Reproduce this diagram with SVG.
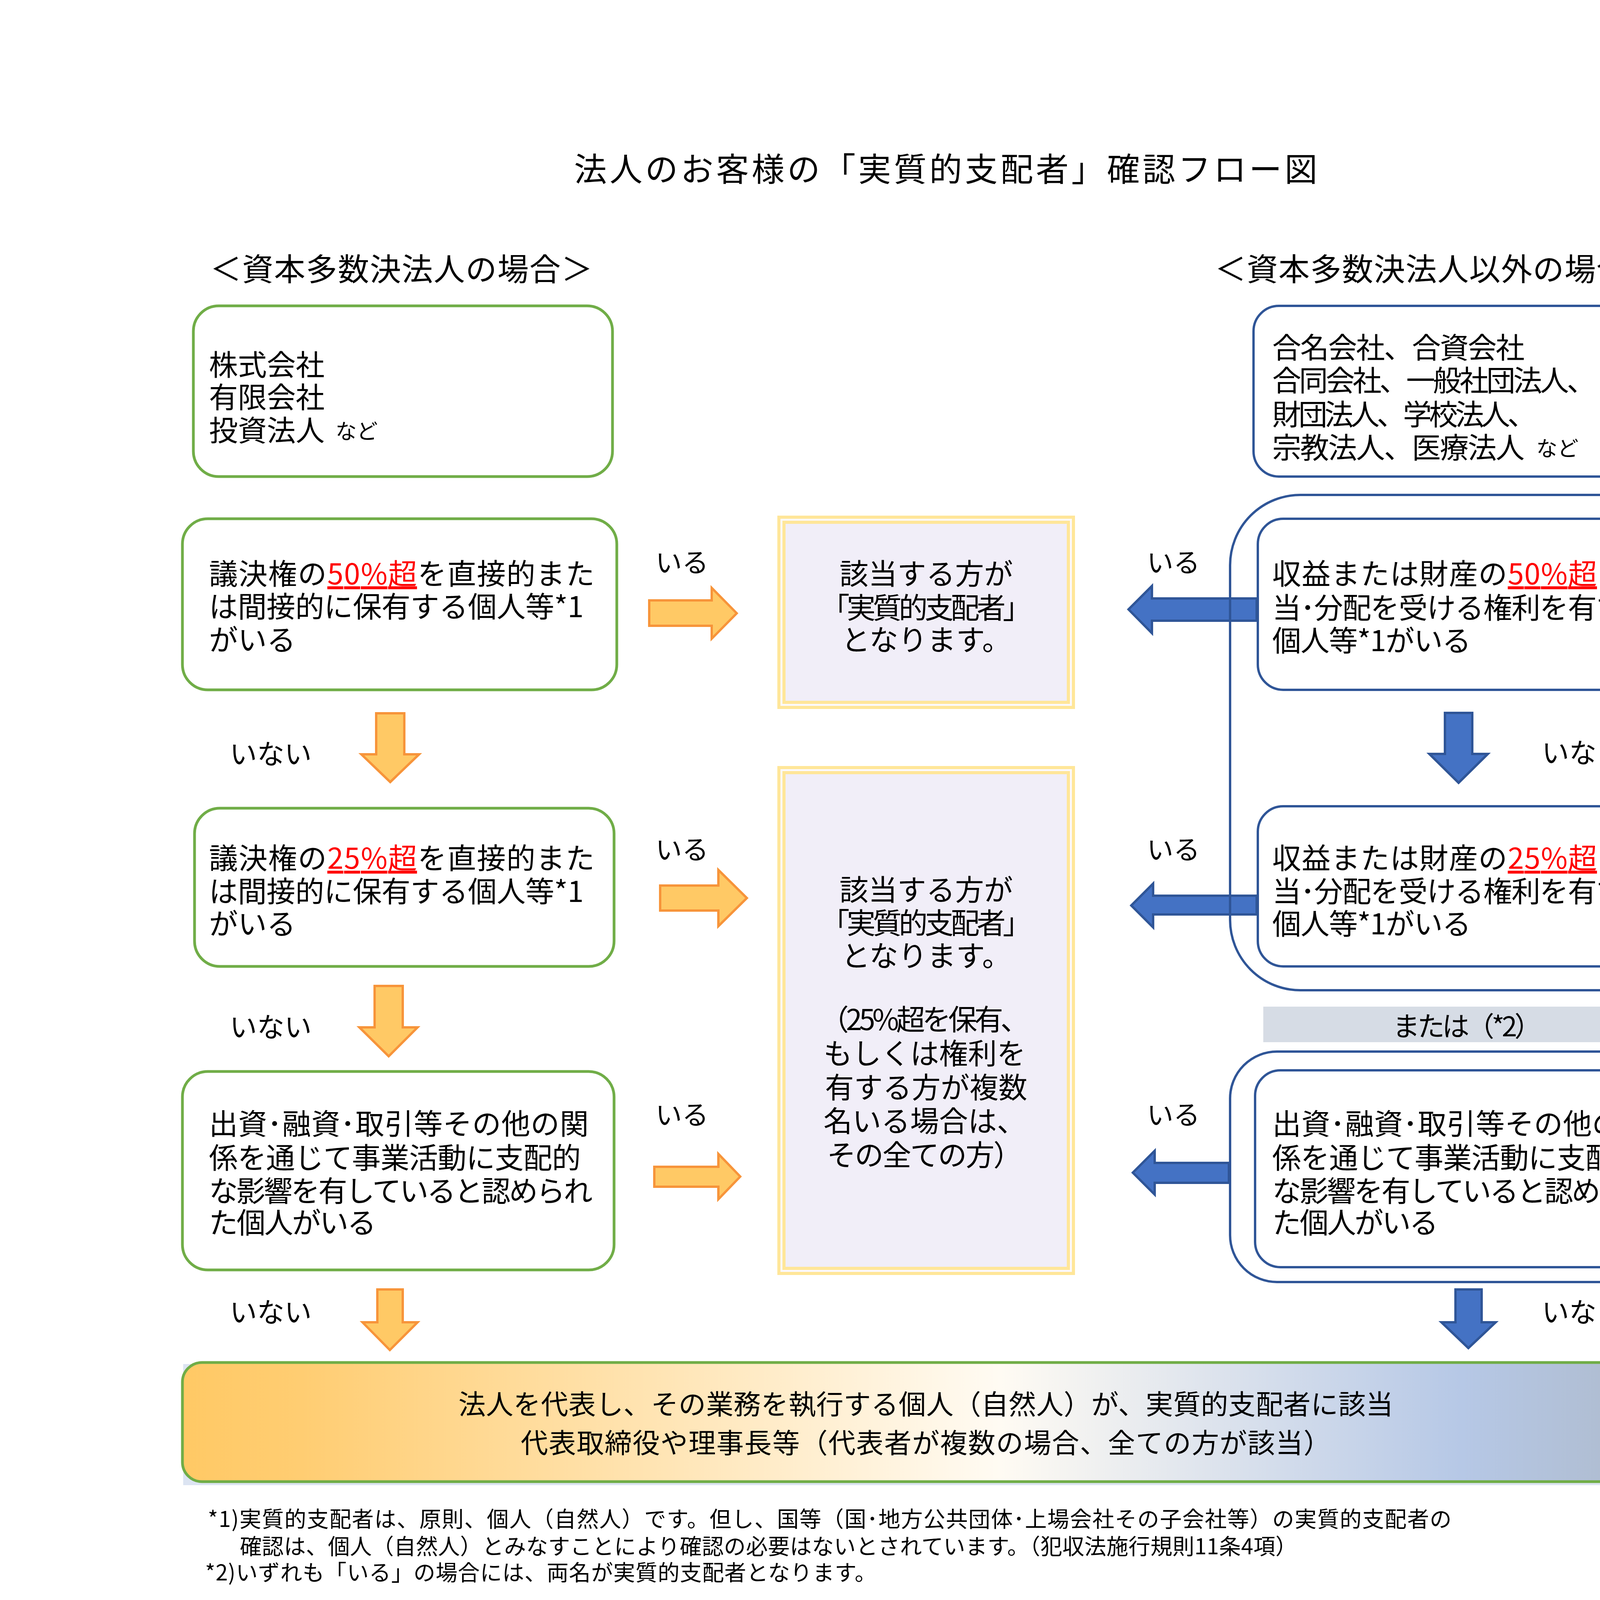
<svg xmlns="http://www.w3.org/2000/svg" width="4960" height="7015" viewBox="0 0 4960 7015">
<defs>
<style>
text{font-family:"Noto Sans CJK JP","Noto Sans",sans-serif;fill:#000;dominant-baseline:central}
.f74{font-size:74px}
.f68{font-size:68px}
.sm{font-size:54px}
.g{fill:#fff;stroke:#70AD47;stroke-width:7}
.b{fill:#fff;stroke:#2F5597;stroke-width:6}
.bo{fill:none;stroke:#2F5597;stroke-width:6}
.red{fill:#FF0000;text-decoration:underline}
.pf1{fill:#FBF9FD;stroke:#FFE699;stroke-width:8}
.pf2{fill:#F1EEF8;stroke:#FFE699;stroke-width:8}
.oa{fill:#FFC965;stroke:#F7943A;stroke-width:6}
.ba{fill:#4472C4;stroke:#2F5597;stroke-width:6}
.wa{fill:#fff;stroke:#000;stroke-width:4}
.pa{fill:#5B9BD5;stroke:#000;stroke-width:7}
.tl{stroke:#000;fill:none}
.d{font-size:66px}
.db{font-size:66px;font-weight:bold}
.co{font-size:70px}
</style>
<linearGradient id="bannerGrad" x1="0" y1="0" x2="1" y2="0">
<stop offset="0" stop-color="#FFC965"/>
<stop offset="0.08" stop-color="#FFCD72"/>
<stop offset="0.55" stop-color="#FFFBF3"/>
<stop offset="0.86" stop-color="#B6C8E6"/>
<stop offset="1" stop-color="#ADB9CA"/>
</linearGradient>
</defs>
<rect width="4960" height="7015" fill="#fff"/>

<g id="title">
<text x="2421" y="427" text-anchor="middle" font-size="84" textLength="1903">法人のお客様の「実質的支配者」確認フロー図</text>
</g>
<g id="header-left">
<text x="538" y="683" font-size="80" textLength="979">＜資本多数決法人の場合＞</text>
</g>
<g id="header-right">
<text x="3110" y="683" font-size="80" textLength="1138">＜資本多数決法人以外の場合＞</text>
</g>

<g id="connectors">
<path class="oa" d="M1662,1537 H1822 V1505 L1886,1570 L1822,1635 V1602 H1662 Z"/>
<path class="oa" d="M1690,2267 H1839 V2227 L1912,2299 L1839,2371 V2331 H1690 Z"/>
<path class="oa" d="M1675,2987 H1839 V2954 L1895,3012 L1839,3070 V3038 H1675 Z"/>
<path class="oa" d="M963,1826 H1035 V1931 H1073 L999,2002 L925,1931 H963 Z"/>
<path class="oa" d="M959,2524 H1031 V2630 H1069 L995,2704 L920,2630 H959 Z"/>
<path class="oa" d="M966,3301 H1031 V3385 H1069 L998,3456 L928,3385 H966 Z"/>
<path class="ba" d="M3217,1532 H2949 V1500 L2889,1560 L2949,1621 V1589 H3217 Z"/>
<path class="ba" d="M3217,2293 H2952 V2262 L2896,2318 L2952,2374 V2341 H3217 Z"/>
<path class="ba" d="M3146,2977 H2956 V2946 L2900,3002 L2956,3058 V3028 H3146 Z"/>
<path class="ba" d="M3699,1825 H3769 V1930 H3809 L3734,2004 L3659,1930 H3699 Z"/>
<path class="ba" d="M3726,3301 H3793 V3385 H3829 L3759,3451 L3690,3385 H3726 Z"/>
<text x="1678" y="1435" class="f68">いる</text>
<text x="1678" y="2170" class="f68">いる</text>
<text x="1678" y="2849" class="f68">いる</text>
<text x="2936" y="1435" class="f68">いる</text>
<text x="2936" y="2170" class="f68">いる</text>
<text x="2936" y="2849" class="f68">いる</text>
<text x="588" y="1925" font-size="70">いない</text>
<text x="588" y="2624" font-size="70">いない</text>
<text x="588" y="3354" font-size="70">いない</text>
<text x="3947" y="1922" font-size="70">いない</text>
<text x="3947" y="3354" font-size="70">いない</text>
</g>

<g id="node-left-1">
<rect class="g" x="495" y="783" width="1073" height="437" rx="65"/>
<text x="535" y="928" class="f74">株式会社</text>
<text x="535" y="1011" class="f74">有限会社</text>
<text x="535" y="1096" class="f74">投資法人</text>
<text x="859" y="1100" class="sm">など</text>
</g>
<g id="node-left-2">
<rect class="g" x="467" y="1328" width="1112" height="438" rx="65"/>
<text x="535" y="1463" class="f74" textLength="987">議決権の<tspan class="red">50%超</tspan>を直接的また</text>
<text x="535" y="1547" class="f74" textLength="959">は間接的に保有する個人等*1</text>
<text x="535" y="1632" class="f74">がいる</text>
</g>
<g id="node-left-3">
<rect class="g" x="498" y="2069" width="1074" height="405" rx="65"/>
<text x="535" y="2191" class="f74" textLength="987">議決権の<tspan class="red">25%超</tspan>を直接的また</text>
<text x="535" y="2276" class="f74" textLength="959">は間接的に保有する個人等*1</text>
<text x="535" y="2359" class="f74">がいる</text>
</g>
<g id="node-left-4">
<rect class="g" x="467" y="2743" width="1105" height="508" rx="65"/>
<text x="535" y="2871" class="f74" textLength="972">出資･融資･取引等その他の関</text>
<text x="535" y="2958" class="f74" textLength="952">係を通じて事業活動に支配的</text>
<text x="535" y="3043" class="f74" textLength="982">な影響を有していると認められ</text>
<text x="535" y="3124" class="f74" textLength="428">た個人がいる</text>
</g>

<g id="node-result-1">
<rect class="pf1" x="1994" y="1324" width="754" height="487"/>
<rect class="pf2" x="2007" y="1337" width="728" height="461"/>
<text x="2371" y="1463" class="f74" text-anchor="middle">該当する方が</text>
<text x="2371" y="1550" class="f74" text-anchor="middle" textLength="540">「実質的支配者」</text>
<text x="2371" y="1632" class="f74" text-anchor="middle">となります。</text>
</g>
<g id="node-result-2">
<rect class="pf1" x="1994" y="1965" width="754" height="1295"/>
<rect class="pf2" x="2007" y="1978" width="728" height="1269"/>
<text x="2371" y="2272" class="f74" text-anchor="middle">該当する方が</text>
<text x="2371" y="2357" class="f74" text-anchor="middle" textLength="540">「実質的支配者」</text>
<text x="2371" y="2441" class="f74" text-anchor="middle">となります。</text>
<text x="2367" y="2604" class="f74" text-anchor="middle" textLength="536">（25%超を保有、</text>
<text x="2367" y="2691" class="f74" text-anchor="middle">もしくは権利を</text>
<text x="2371" y="2778" class="f74" text-anchor="middle">有する方が複数</text>
<text x="2367" y="2864" class="f74" text-anchor="middle">名いる場合は、</text>
<text x="2367" y="2951" class="f74" text-anchor="middle" textLength="500">その全ての方）</text>
</g>

<g id="node-right-1">
<rect class="b" x="3209" y="783" width="1083" height="437" rx="65"/>
<text x="3257" y="884" class="f74" textLength="646">合名会社、合資会社</text>
<text x="3257" y="968" class="f74" textLength="828">合同会社、一般社団法人、</text>
<text x="3257" y="1055" class="f74" textLength="676">財団法人、学校法人、</text>
<text x="3257" y="1140" class="f74" textLength="646">宗教法人、医療法人</text>
<text x="3933" y="1144" class="sm">など</text>
</g>
<g id="group-right-a">
<rect class="bo" x="3149" y="1267" width="1227" height="1268" rx="180"/>
</g>
<g id="node-right-2">
<rect class="b" x="3220" y="1328" width="1065" height="438" rx="65"/>
<text x="3257" y="1463" class="f74" textLength="982">収益または財産の<tspan class="red">50%超</tspan>の配</text>
<text x="3257" y="1550" class="f74" textLength="975">当･分配を受ける権利を有する</text>
<text x="3257" y="1634" class="f74" textLength="509">個人等*1がいる</text>
</g>
<g id="node-right-3">
<rect class="b" x="3220" y="2064" width="1065" height="410" rx="65"/>
<text x="3257" y="2191" class="f74" textLength="982">収益または財産の<tspan class="red">25%超</tspan>の配</text>
<text x="3257" y="2276" class="f74" textLength="975">当･分配を受ける権利を有する</text>
<text x="3257" y="2359" class="f74" textLength="509">個人等*1がいる</text>
</g>
<g id="label-or">
<rect x="3234" y="2577" width="1044" height="91" fill="#D6DCE5"/>
<text x="3756" y="2622" font-size="70" text-anchor="middle" textLength="382">または（*2）</text>
</g>
<g id="group-right-b">
<rect class="bo" x="3149" y="2692" width="1217" height="590" rx="120"/>
</g>
<g id="node-right-4">
<rect class="b" x="3213" y="2740" width="1079" height="504" rx="65"/>
<text x="3257" y="2871" class="f74" textLength="967">出資･融資･取引等その他の関</text>
<text x="3257" y="2958" class="f74" textLength="948">係を通じて事業活動に支配的</text>
<text x="3257" y="3043" class="f74" textLength="980">な影響を有していると認められ</text>
<text x="3257" y="3124" class="f74" textLength="425">た個人がいる</text>
</g>

<g id="node-conclusion">
<rect x="469" y="3492" width="3808" height="310" fill="#DCE4F2"/>
<rect x="467" y="3488" width="3806" height="305" rx="50" fill="url(#bannerGrad)" stroke="#70AD47" stroke-width="7"/>
<text x="2370" y="3590" font-size="70" text-anchor="middle" textLength="2393">法人を代表し、その業務を執行する個人（自然人）が、実質的支配者に該当</text>
<text x="2370" y="3689" font-size="70" text-anchor="middle" textLength="2074">代表取締役や理事長等（代表者が複数の場合、全ての方が該当）</text>
</g>

<g id="notes">
<text x="532" y="3884" font-size="56" textLength="3184">*1)実質的支配者は、原則、個人（自然人）です。但し、国等（国･地方公共団体･上場会社その子会社等）の実質的支配者の</text>
<text x="614" y="3954" font-size="56" textLength="2707">確認は、個人（自然人）とみなすことにより確認の必要はないとされています。（犯収法施行規則11条4項）</text>
<text x="525" y="4021" font-size="56" textLength="1719">*2)いずれも「いる」の場合には、両名が実質的支配者となります。</text>
</g>

<g id="section-header">
<rect x="512" y="4115" width="3769" height="213" fill="none" stroke="#70AD47" stroke-width="5"/>
<rect x="525" y="4127" width="3745" height="187" fill="none" stroke="#70AD47" stroke-width="6"/>
<text x="2405" y="4222" font-size="86" text-anchor="middle" textLength="1050">議決権の間接保有について</text>
</g>

<g id="table">
<line class="tl" x1="532" y1="4345" x2="4237" y2="4345" stroke-width="6"/>
<line class="tl" x1="532" y1="4611" x2="4237" y2="4611" stroke-width="6"/>
<line class="tl" x1="532" y1="5276" x2="4237" y2="5276" stroke-width="5"/>
<line class="tl" x1="533" y1="6817" x2="4236" y2="6817" stroke-width="4"/>
<line class="tl" x1="535" y1="4345" x2="535" y2="6817" stroke-width="3"/>
<line class="tl" x1="4234" y1="4345" x2="4234" y2="6817" stroke-width="3"/>
<line class="tl" x1="1341" y1="4345" x2="1341" y2="6817" stroke-width="3"/>
<line class="tl" x1="2256" y1="5276" x2="2256" y2="6817" stroke-width="3"/>
<line class="tl" x1="3282" y1="5276" x2="3282" y2="6817" stroke-width="3"/>
<text x="938" y="4479" font-size="94" font-weight="bold" style="fill:#ED7D31" text-anchor="middle" textLength="579">直接保有の例</text>
<text x="2791" y="4479" font-size="94" font-weight="bold" style="fill:#ED7D31" text-anchor="middle" textLength="574">間接保有の例</text>
<text x="590" y="4676" font-size="62" textLength="664">・個人AはB社の実質</text>
<text x="583" y="4810" font-size="62" textLength="492">的支配者となる</text>
<text x="572" y="4944" font-size="62" textLength="689">（B社の議決権５１％</text>
<text x="583" y="5072" font-size="62" textLength="425">を直接保有）</text>
<text x="1394" y="4676" font-size="62" textLength="2755">・①、②のケースのように、個人Aが間にあるC社（上場会社等ではない）の議決権の</text>
<rect x="1384" y="4754" width="275" height="118" fill="#FFFF00"/>
<line class="tl" x1="1384" y1="4857" x2="1659" y2="4857" stroke-width="6"/>
<text x="1386" y="4810" font-size="62" font-weight="bold" textLength="271">５０%超</text>
<text x="1663" y="4810" font-size="62" textLength="2282">を保有している場合のみ、間接保有分として議決権の算定に含めます。</text>
<text x="1394" y="4944" font-size="62" textLength="2414">・③のように、間にあるC社（上場会社等ではない）の議決権の保有割合が</text>
<rect x="3812" y="4887" width="350" height="115" fill="#D9D9D9"/>
<text x="3814" y="4944" font-size="62" textLength="346">５０%以下</text>
<text x="1384" y="5072" font-size="62" textLength="2740">のときは、AはB社の議決権を有していないとされ、実質的支配者には該当しません。</text>
</g>

<g id="example-direct">
<rect x="788" y="5517" width="301" height="135" fill="#fff" stroke="#000" stroke-width="4"/>
<text x="792" y="5584" font-size="68">個人<tspan x="1025">A</tspan></text>
<path class="wa" d="M930,5784 H976 V6410 H1001 L953,6453 L906,6410 H930 Z"/>
<text x="1013" y="5917" class="db">直接</text>
<text x="989" y="6047" class="db">５１％</text>
<line class="tl" x1="976" y1="6090" x2="1192" y2="6090" stroke-width="3"/>
<text x="874" y="6573" class="co">Ｂ社</text>
</g>

<g id="example-1">
<text x="1380" y="5342" font-size="64">①</text>
<rect x="1456" y="5477" width="300" height="134" fill="#fff" stroke="#000" stroke-width="4"/>
<text x="1460" y="5544" font-size="68">個人<tspan x="1692">A</tspan></text>
<path class="wa" d="M1528,5709 H1567 V5993 H1589 L1548,6031 L1507,5993 H1528 Z"/>
<rect x="1601" y="5816" width="215" height="117" fill="#FFFF00"/>
<text x="1617" y="5874" class="d">５５％</text>
<path class="pa" d="M1861,5541 H1946 V5998 H1958 L1931,6031 L1904,5998 H1916 V5568 H1861 Z"/>
<text x="1468" y="6134" class="co">Ｃ社</text>
<text x="1850" y="6139" class="db" textLength="345">３０％保有</text>
<line class="tl" x1="1836" y1="6182" x2="2195" y2="6182" stroke-width="4"/>
<path class="wa" d="M1528,6250 H1567 V6504 H1589 L1548,6542 L1507,6504 H1528 Z"/>
<text x="1601" y="6401" class="db">間接</text>
<text x="1613" y="6535" class="db">３０％</text>
<path class="pa" d="M1922,6234 H1959 V6679 H1886 V6695 L1843,6664 L1886,6635 V6649 H1922 Z"/>
<text x="1474" y="6665" class="co">Ｂ社</text>
</g>

<g id="example-2">
<text x="2298" y="5342" font-size="64">②</text>
<rect x="2372" y="5477" width="301" height="134" fill="#fff" stroke="#000" stroke-width="4"/>
<text x="2376" y="5544" font-size="68">個人<tspan x="2605">A</tspan></text>
<text x="2375" y="5743" class="db">直接</text>
<text x="2384" y="5873" class="db">２０％</text>
<path class="wa" d="M2634,5680 H2673 V5962 H2696 L2654,6000 L2612,5962 H2634 Z"/>
<rect x="2696" y="5816" width="216" height="117" fill="#FFFF00"/>
<text x="2710" y="5874" class="d">５５％</text>
<path class="pa" d="M2973,5543 H3059 V5998 H3071 L3044,6031 L3017,5998 H3029 V5570 H2973 Z"/>
<path class="wa" d="M2458,5962 H2498 V6527 H2525 L2478,6570 L2431,6527 H2458 Z"/>
<text x="2601" y="6134" class="co">Ｃ社</text>
<text x="2869" y="6139" class="db" textLength="345">５０％保有</text>
<line class="tl" x1="2855" y1="6182" x2="3214" y2="6182" stroke-width="4"/>
<path class="wa" d="M2634,6233 H2673 V6530 H2696 L2654,6570 L2612,6530 H2634 Z"/>
<text x="2735" y="6401" class="db">間接</text>
<text x="2748" y="6535" class="db">３０％</text>
<path class="pa" d="M3040,6250 H3070 V6690 H3003 V6705 L2960,6675 L3003,6645 V6660 H3040 Z"/>
<text x="2458" y="6665" class="co">Ｂ社</text>
</g>

<g id="example-3">
<text x="3318" y="5342" font-size="64">③</text>
<rect x="3466" y="5477" width="301" height="134" fill="#fff" stroke="#000" stroke-width="4"/>
<text x="3470" y="5544" font-size="68">個人<tspan x="3703">A</tspan></text>
<path class="pa" d="M3801,5543 H3881 V5857 H3893 L3866,5884 L3838,5857 H3850 V5570 H3801 Z"/>
<path class="wa" d="M3465,5709 H3505 V5993 H3529 L3485,6031 L3442,5993 H3465 Z"/>
<rect x="3540" y="5816" width="213" height="117" fill="#D9D9D9"/>
<text x="3554" y="5874" class="d">５０％</text>
<text x="3767" y="6006" class="d" textLength="344">ＡはＢ社の</text>
<text x="3779" y="6139" class="d" textLength="279">議決権は</text>
<text x="3759" y="6269" class="d" textLength="352">有してない</text>
<text x="3408" y="6134" class="co">Ｃ社</text>
<path class="wa" d="M3465,6250 H3505 V6504 H3529 L3485,6542 L3442,6504 H3465 Z"/>
<text x="3552" y="6401" class="db">３０％</text>
<path class="pa" d="M3861,6321 H3891 V6679 H3822 V6695 L3781,6664 L3822,6635 V6649 H3861 Z"/>
<text x="3412" y="6665" class="co">Ｂ社</text>
</g>
</svg>
